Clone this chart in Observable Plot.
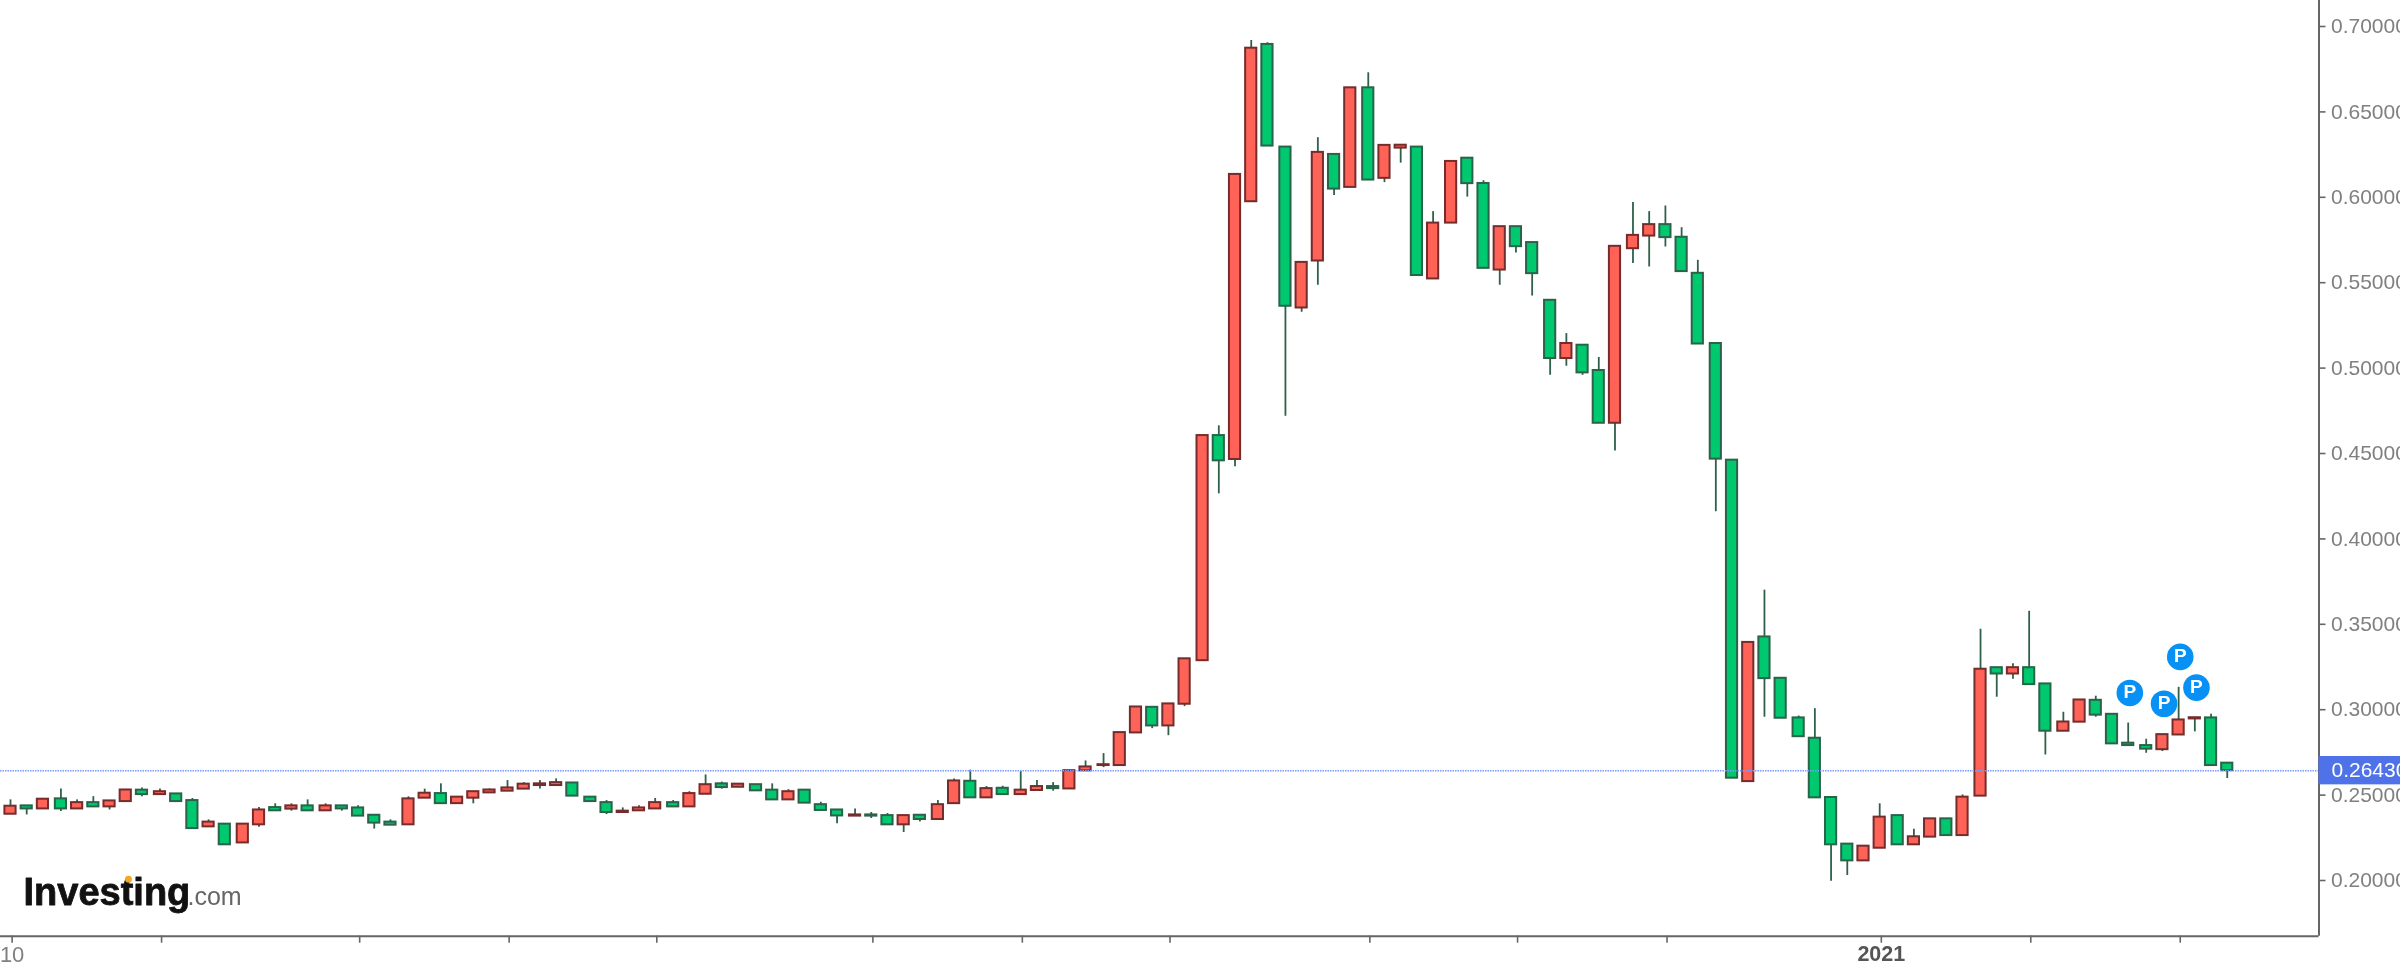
<!DOCTYPE html>
<html>
<head>
<meta charset="utf-8">
<script src="https://cdn.jsdelivr.net/npm/d3@7"></script>
<script src="https://cdn.jsdelivr.net/npm/@observablehq/plot@0.6"></script>
<style>
html,body{margin:0;padding:0;background:#fff;overflow:hidden}
svg{display:block;filter:blur(0.4px)}
</style>
</head>
<body>
<div id="chart"></div>
<script>
const bodyTop = [
.2435,.2437,.2476,.2478,.2456,.2456,.2466,.2530,.2529,.2520,
.2507,.2468,.2342,.2330,.2330,.2413,.2427,.2437,.2437,.2437,
.2437,.2425,.2382,.2342,.2478,.2511,.2509,.2488,.2520,.2530,
.2542,.2564,.2566,.2573,.2571,.2488,.2456,.2406,.2425,.2456,
.2456,.2509,.2561,.2566,.2564,.2561,.2529,.2520,.2529,.2444,
.2413,.2384,.2384,.2380,.2380,.2382,.2444,.2583,.2581,.2538,
.2540,.2529,.2550,.2550,.2643,.2665,.2678,.2866,.3016,.3014,
.3034,.3298,.4605,.4605,.6134,.6873,.6895,.6294,.5619,.6263,
.6251,.6641,.6641,.6304,.6305,.6294,.5849,.6210,.6229,.6081,
.5828,.5828,.5735,.5397,.5144,.5134,.4986,.5713,.5777,.5840,
.5840,.5766,.5555,.5144,.4461,.3394,.3426,.3184,.2952,.2833,
.2486,.2213,.2201,.2371,.2380,.2256,.2361,.2361,.2488,.3237,
.3246,.3246,.3246,.3151,.2928,.3057,.3055,.2973,.2804,.2790,
.2854,.2940,.2953,.2952,.2687];
const bodyBottom = [
.2388,.2419,.2419,.2419,.2419,.2431,.2431,.2462,.2503,.2503,
.2462,.2304,.2314,.2209,.2220,.2326,.2408,.2418,.2408,.2408,
.2419,.2377,.2336,.2324,.2326,.2482,.2450,.2450,.2482,.2513,
.2523,.2535,.2556,.2556,.2494,.2462,.2398,.2398,.2408,.2419,
.2431,.2431,.2505,.2544,.2546,.2525,.2472,.2472,.2453,.2410,
.2378,.2377,.2377,.2326,.2326,.2357,.2357,.2450,.2484,.2484,
.2503,.2503,.2527,.2538,.2536,.2642,.2673,.2673,.2864,.2905,
.2905,.3032,.3287,.4457,.4465,.5974,.6300,.5362,.5352,.5627,
.6048,.6058,.6101,.6111,.6288,.5542,.5522,.5849,.6080,.5584,
.5574,.5711,.5553,.5056,.5056,.4972,.4677,.4677,.5699,.5773,
.5764,.5565,.5141,.4467,.2599,.2579,.3182,.2950,.2842,.2484,
.2209,.2115,.2115,.2189,.2209,.2209,.2254,.2263,.2263,.2494,
.3209,.3209,.3147,.2874,.2874,.2927,.2968,.2800,.2790,.2769,
.2766,.2852,.2946,.2673,.2643];
const high = [
.2472,.2437,.2476,.2535,.2472,.2491,.2469,.2530,.2542,.2535,
.2507,.2480,.2355,.2330,.2330,.2427,.2449,.2449,.2472,.2449,
.2437,.2437,.2382,.2355,.2490,.2535,.2566,.2488,.2520,.2536,
.2585,.2573,.2585,.2595,.2571,.2488,.2468,.2425,.2437,.2480,
.2468,.2520,.2618,.2576,.2564,.2561,.2566,.2532,.2529,.2458,
.2413,.2419,.2398,.2392,.2380,.2382,.2468,.2595,.2646,.2550,
.2552,.2638,.2585,.2573,.2643,.2700,.2743,.2866,.3016,.3014,
.3034,.3298,.4605,.4662,.6134,.6918,.6905,.6294,.5619,.6349,
.6251,.6641,.6729,.6304,.6305,.6294,.5916,.6210,.6229,.6097,
.5828,.5828,.5735,.5397,.5202,.5134,.5062,.5713,.5969,.5916,
.5949,.5822,.5631,.5144,.4461,.3394,.3700,.3184,.2963,.3006,
.2486,.2213,.2201,.2449,.2380,.2300,.2361,.2361,.2501,.3471,
.3246,.3269,.3576,.3151,.2985,.3057,.3079,.2973,.2922,.2827,
.2854,.3131,.2953,.2973,.2687];
const low = [
.2388,.2384,.2419,.2404,.2419,.2431,.2413,.2462,.2491,.2501,
.2462,.2304,.2311,.2209,.2220,.2312,.2408,.2406,.2408,.2406,
.2406,.2377,.2301,.2324,.2326,.2482,.2448,.2450,.2449,.2513,
.2523,.2535,.2535,.2556,.2494,.2460,.2386,.2396,.2408,.2419,
.2431,.2431,.2505,.2535,.2546,.2525,.2472,.2472,.2453,.2410,
.2332,.2377,.2363,.2326,.2281,.2343,.2355,.2449,.2484,.2484,
.2503,.2503,.2527,.2523,.2536,.2642,.2661,.2673,.2864,.2889,
.2848,.3018,.3287,.4264,.4422,.5974,.6300,.4718,.5327,.5485,
.6011,.6058,.6101,.6086,.6200,.5542,.5522,.5849,.6001,.5584,
.5485,.5674,.5422,.4958,.5011,.4958,.4677,.4515,.5612,.5592,
.5709,.5565,.5141,.4159,.2599,.2579,.2956,.2950,.2842,.2484,
.1996,.2029,.2115,.2189,.2209,.2209,.2254,.2263,.2263,.2494,
.3073,.3178,.3147,.2735,.2874,.2927,.2956,.2800,.2790,.2745,
.2755,.2852,.2870,.2673,.2597];
const direction =
"RGRGRGRRGR"+"GGRGRRGRGR"+"GGGGRRGRRR"+"RRRRGGGRRR"+"GRRGRGGRGG"+
"GRGGRGRRGR"+"GRRGRRRRRG"+"RRRGRRGGRR"+"GRGRRGRRGG"+"RGGGRGGRRR"+
"GGGGGRGGGG"+"GGRRGRRGRR"+"GRGGRRGGGG"+"RRRGG";
const monthEnds = [3,9,14,19,24,30,35,40,45,51,56,61,66,72,77,82,87,93,98,103,108,114,119,124,129];
const axisCandles = [1,10,22,31,40,53,62,71,83,92,101,114,123,132];
const yTicks = [0.20,0.25,0.30,0.35,0.40,0.45,0.50,0.55,0.60,0.65,0.70];
const lastPrice = 0.2643;
const pinCandles = [129,131,132,133];
const pinPrices = [0.3098,0.3035,0.3309,0.3129];

const MONTH_GAP = 0.11, HALF = 0.345;
const slotOf = n => (n-1) + MONTH_GAP * monthEnds.filter(m => m < n).length;
const rows = bodyTop.map((t,i)=>({
  slot: slotOf(i+1), open: direction[i]==="R"?bodyBottom[i]:t, close: direction[i]==="R"?t:bodyBottom[i],
  top:t, bottom:bodyBottom[i], high:high[i], low:low[i], up:direction[i]==="R"
}));
const tickSlots = axisCandles.map(n=>slotOf(n)+0.1);
const pins = pinCandles.map((n,i)=>({slot:slotOf(n)+0.1, price:pinPrices[i]}));
const font = '"Liberation Sans", Arial, sans-serif';
const narrow = '"Liberation Sans Narrow", "Liberation Sans", sans-serif';
const axisColor = "#666666";
const labelColor = "#808080";
const xMin = -0.617, xMax = 142.41, yMin = 0.16739, yMax = 0.71522;
const tagX1 = xMax, tagX2 = 147.7, tagHalf = 0.0083;

const candleBody = (data, fill, stroke) => Plot.rect(data, {
  x1: d=>d.slot-HALF, x2: d=>d.slot+HALF, y1:"bottom", y2:"top", fill, stroke, strokeWidth:2
});

const chart = Plot.plot({
  width:2400, height:968, marginLeft:0, marginTop:0, marginRight:81.5, marginBottom:32.3,
  style:{fontFamily:font, background:"#fff", overflow:"hidden"},
  x:{domain:[xMin,xMax], axis:null},
  y:{domain:[yMin,yMax], axis:null},
  marks:[
    Plot.ruleX(rows,{x:"slot",y1:"low",y2:"high",stroke:"#2f6049",strokeWidth:1.8}),
    candleBody(rows.filter(d=>d.up),"#ff6358","#752c2c"),
    candleBody(rows.filter(d=>!d.up),"#00c86f","#2a6349"),
    Plot.ruleY([lastPrice],{stroke:"#7a9bff",strokeWidth:1.5,strokeDasharray:"1.5 1"}),
    Plot.ruleY([yMin],{stroke:axisColor,strokeWidth:2}),
    Plot.ruleX([xMax],{stroke:axisColor,strokeWidth:2}),
    Plot.axisX({ticks:tickSlots,anchor:"bottom",tickSize:7,tickFormat:()=>"",stroke:axisColor,strokeWidth:1.6,label:null}),
    Plot.axisY({anchor:"right",ticks:yTicks,tickSize:6,tickPadding:6,tickFormat:d3.format(".5f"),
      fontSize:21,stroke:axisColor,fill:labelColor,strokeWidth:1.6,label:null}),
    Plot.text(["10"],{x:slotOf(1)+0.1,frameAnchor:"bottom",lineAnchor:"top",dy:10,text:d=>d,fontFamily:narrow,fontSize:22,fill:labelColor}),
    Plot.text(["2021"],{x:slotOf(114)+0.1,frameAnchor:"bottom",lineAnchor:"top",dy:10,text:d=>d,fontFamily:narrow,fontSize:21.5,fontWeight:700,fill:"#555"}),
    Plot.rect([lastPrice],{x1:tagX1,x2:tagX2,y1:d=>d-tagHalf,y2:d=>d+tagHalf,fill:"#4f72e8"}),
    Plot.text([lastPrice],{x:tagX1,y:d=>d,dx:12.5,textAnchor:"start",text:d=>d.toFixed(5),fontSize:21,fill:"#fff"}),
    Plot.dot(pins,{x:"slot",y:"price",r:13.3,fill:"#0791f5"}),
    Plot.text(pins,{x:"slot",y:"price",text:()=>"P",dy:-1,fontSize:19,fontWeight:700,fill:"#fff"}),
    Plot.text(["Investing"],{frameAnchor:"bottom-left",dx:23,dy:-31,lineAnchor:"bottom",textAnchor:"start",text:d=>d,
      fontSize:38,fontWeight:700,fill:"#111",letterSpacing:"-2px",stroke:"#111",strokeWidth:0.8}),
    Plot.dot([0],{frameAnchor:"bottom-left",dx:128,dy:-57,r:3.4,fill:"#f5a623"}),
    Plot.text([".com"],{frameAnchor:"bottom-left",dx:187,dy:-31,lineAnchor:"bottom",textAnchor:"start",text:d=>d,
      fontSize:25,fill:"#666",letterSpacing:"-0.4px"})
  ]
});
document.getElementById("chart").appendChild(chart);
</script>
</body>
</html>
